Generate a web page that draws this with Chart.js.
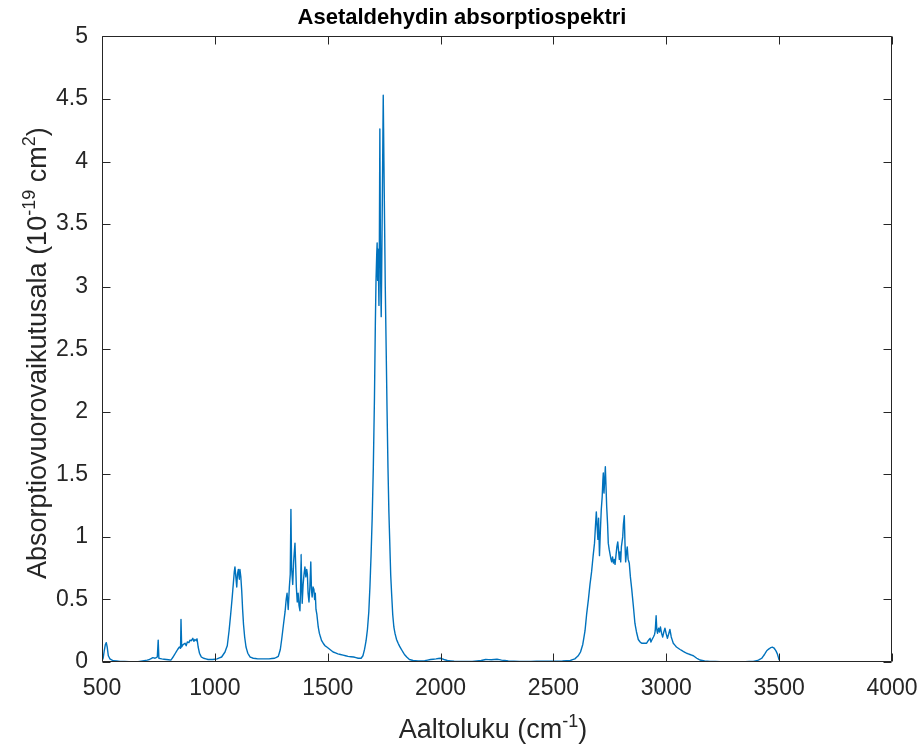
<!DOCTYPE html>
<html>
<head>
<meta charset="utf-8">
<title>Asetaldehydin absorptiospektri</title>
<script src="https://cdn.jsdelivr.net/npm/chart.js@4.4.1/dist/chart.umd.min.js"></script>
<style>
  html, body { margin: 0; padding: 0; background: #ffffff; }
  #wrap { width: 924px; height: 748px; }
</style>
</head>
<body>
<div id="wrap"><canvas id="spectrum-chart" width="924" height="748"></canvas></div>
<script>
// aaltoluku (cm^-1) ja absorptiovuorovaikutusala (1e-19 cm^2), luettu kuvasta
const wavenumber = [
  500, 505, 510, 515, 519, 523, 528, 535, 550, 580, 620, 660, 700, 710, 725, 735, 745, 749, 752, 765,
  785, 805, 815, 825, 835, 843, 848, 850, 853, 860, 868, 873, 878, 885, 890, 896, 902, 907, 912, 917,
  921, 926, 932, 940, 950, 970, 990, 1010, 1030, 1045, 1055, 1063, 1070, 1077, 1082, 1086, 1089, 1093, 1097, 1100,
  1104, 1108, 1111, 1115, 1119, 1123, 1127, 1132, 1138, 1146, 1156, 1170, 1190, 1215, 1240, 1265, 1281, 1290, 1296, 1304,
  1311, 1316, 1320, 1325, 1330, 1334, 1337, 1340, 1345, 1349, 1352, 1355, 1358, 1361, 1365, 1369, 1373, 1377, 1380, 1382,
  1385, 1387, 1391, 1395, 1399, 1403, 1407, 1410, 1413, 1417, 1421, 1425, 1428, 1431, 1435, 1439, 1442, 1445, 1448, 1452,
  1455, 1458, 1463, 1468, 1473, 1480, 1488, 1496, 1510, 1524, 1545, 1568, 1590, 1615, 1635, 1648, 1656, 1663, 1670, 1676,
  1682, 1687, 1692, 1697, 1702, 1707, 1711, 1714, 1717, 1719, 1721, 1723, 1725, 1727, 1729, 1731, 1733, 1735, 1737, 1739,
  1742, 1746, 1749, 1752, 1755, 1759, 1763, 1767, 1771, 1775, 1779, 1783, 1788, 1793, 1798, 1805, 1812, 1820, 1830, 1840,
  1850, 1862, 1878, 1900, 1930, 1955, 1980, 2000, 2015, 2030, 2060, 2100, 2140, 2180, 2200, 2225, 2250, 2270, 2300, 2350,
  2400, 2450, 2500, 2540, 2575, 2595, 2610, 2620, 2630, 2640, 2647, 2655, 2662, 2669, 2676, 2682, 2686, 2690, 2693, 2697,
  2700, 2704, 2708, 2712, 2716, 2719, 2721, 2724, 2727, 2730, 2733, 2736, 2740, 2743, 2747, 2751, 2755, 2758, 2762, 2766,
  2770, 2773, 2777, 2781, 2785, 2788, 2792, 2795, 2798, 2801, 2804, 2807, 2810, 2814, 2817, 2820, 2824, 2827, 2831, 2836,
  2841, 2847, 2854, 2861, 2868, 2876, 2884, 2891, 2900, 2913, 2920, 2928, 2932, 2937, 2943, 2948, 2951, 2955, 2958, 2961,
  2966, 2970, 2974, 2979, 2984, 2989, 2994, 2999, 3005, 3010, 3016, 3022, 3031, 3045, 3061, 3075, 3090, 3105, 3120, 3135,
  3149, 3170, 3194, 3240, 3300, 3350, 3385, 3405, 3423, 3435, 3445, 3455, 3463, 3470, 3477, 3482, 3487, 3492, 3497, 3500
];

const crossSection = [
  0.01, 0.03, 0.09, 0.14, 0.155, 0.12, 0.05, 0.025, 0.01, 0.005, 0.003, 0.003, 0.015, 0.02, 0.035, 0.03, 0.04, 0.175, 0.03, 0.025,
  0.02, 0.015, 0.04, 0.07, 0.1, 0.12, 0.11, 0.34, 0.12, 0.14, 0.15, 0.13, 0.16, 0.155, 0.175, 0.17, 0.19, 0.165, 0.18, 0.17,
  0.185, 0.12, 0.07, 0.04, 0.03, 0.02, 0.02, 0.025, 0.04, 0.08, 0.13, 0.25, 0.38, 0.52, 0.63, 0.72, 0.76, 0.68, 0.6, 0.7,
  0.74, 0.66, 0.74, 0.68, 0.57, 0.42, 0.3, 0.2, 0.12, 0.07, 0.04, 0.03, 0.025, 0.025, 0.025, 0.03, 0.045, 0.1, 0.18, 0.3,
  0.4, 0.5, 0.55, 0.42, 0.6, 0.7, 1.22, 0.75, 0.62, 0.8, 0.88, 0.95, 0.78, 0.6, 0.48, 0.55, 0.45, 0.41, 0.6, 0.86,
  0.6, 0.47, 0.62, 0.7, 0.76, 0.68, 0.74, 0.7, 0.55, 0.48, 0.6, 0.8, 0.58, 0.52, 0.6, 0.58, 0.5, 0.55, 0.42, 0.38,
  0.33, 0.28, 0.23, 0.2, 0.17, 0.15, 0.13, 0.12, 0.1, 0.08, 0.065, 0.055, 0.045, 0.04, 0.03, 0.03, 0.05, 0.1, 0.17, 0.26,
  0.4, 0.6, 0.85, 1.15, 1.55, 2.1, 2.7, 3.05, 3.25, 3.35, 3.05, 3.3, 3.1, 2.85, 3.4, 4.26, 3.5, 3.0, 2.76, 3.1,
  3.7, 4.53, 4.0, 3.5, 3.0, 2.5, 2.0, 1.55, 1.2, 0.95, 0.7, 0.55, 0.38, 0.28, 0.23, 0.18, 0.15, 0.12, 0.09, 0.06,
  0.04, 0.02, 0.012, 0.008, 0.01, 0.02, 0.025, 0.03, 0.02, 0.012, 0.006, 0.004, 0.005, 0.012, 0.02, 0.018, 0.022, 0.015, 0.008, 0.005,
  0.005, 0.006, 0.006, 0.008, 0.012, 0.025, 0.05, 0.08, 0.14, 0.25, 0.38, 0.5, 0.62, 0.72, 0.85, 0.95, 1.08, 1.2, 1.1, 0.98,
  1.15, 0.85, 1.05, 1.22, 1.32, 1.45, 1.51, 1.35, 1.45, 1.56, 1.4, 1.24, 1.1, 0.95, 0.9, 0.86, 0.82, 0.8, 0.84, 0.79,
  0.82, 0.78, 0.85, 0.92, 0.96, 0.9, 0.82, 0.88, 0.8, 0.92, 0.96, 1.0, 1.1, 1.17, 0.95, 0.8, 0.88, 0.92, 0.82, 0.79,
  0.68, 0.58, 0.45, 0.31, 0.24, 0.18, 0.16, 0.15, 0.15, 0.15, 0.17, 0.19, 0.16, 0.18, 0.2, 0.22, 0.25, 0.37, 0.26, 0.23,
  0.27, 0.24, 0.28, 0.23, 0.2, 0.24, 0.27, 0.23, 0.19, 0.22, 0.26, 0.2, 0.15, 0.12, 0.1, 0.085, 0.07, 0.06, 0.05, 0.03,
  0.016, 0.008, 0.004, 0.003, 0.003, 0.003, 0.005, 0.012, 0.03, 0.06, 0.09, 0.105, 0.115, 0.118, 0.112, 0.1, 0.085, 0.065, 0.035, 0.015
];

const xTicks = [500, 1000, 1500, 2000, 2500, 3000, 3500, 4000];
const yTicks = [0, 0.5, 1, 1.5, 2, 2.5, 3, 3.5, 4, 4.5, 5];

// akselien otsikot paloina, jotta yläindeksit saadaan oikein
const xTitleParts = [{ text: 'Aaltoluku (cm' }, { text: '-1', sup: true }, { text: ')' }];
const yTitleParts = [{ text: 'Absorptiovuorovaikutusala (10' }, { text: '-19', sup: true }, { text: ' cm' }, { text: '2', sup: true }, { text: ')' }];

const axisColor = '#262626';
const lineColor = '#0072BD';
const fontFamily = '"Liberation Sans", Arial, Helvetica, sans-serif';
const labelSize = 27;

function drawRichText(ctx, parts, cx, baseline, size) {
    const supSize = Math.round(size * 0.68);
    let total = 0;
    parts.forEach(p => {
        ctx.font = (p.sup ? supSize : size) + 'px ' + fontFamily;
        p.w = ctx.measureText(p.text).width;
        total += p.w;
    });
    let x = cx - total / 2;
    ctx.textAlign = 'left';
    ctx.textBaseline = 'alphabetic';
    parts.forEach(p => {
        ctx.font = (p.sup ? supSize : size) + 'px ' + fontFamily;
        ctx.fillText(p.text, x, p.sup ? baseline - size * 0.42 : baseline);
        x += p.w;
    });
}

// MATLAB-tyylinen laatikko, sisäänpäin osoittavat jakoviivat ja akselien otsikot
const boxPlugin = {
    id: 'matlabBox',
    afterDatasetsDraw(chart) {
        const { ctx, chartArea, scales } = chart;
        const tickLen = 8;
        ctx.save();
        ctx.strokeStyle = axisColor;
        ctx.lineWidth = 1;
        ctx.beginPath();
        const l = Math.round(chartArea.left) + 0.5;
        const r = Math.round(chartArea.right) - 0.5;
        const t = Math.round(chartArea.top) + 0.5;
        const b = Math.round(chartArea.bottom) - 0.5;
        ctx.rect(l, t, r - l, b - t);
        xTicks.forEach(v => {
            const px = Math.round(scales.x.getPixelForValue(v)) + 0.5;
            ctx.moveTo(px, b); ctx.lineTo(px, b - tickLen);
            ctx.moveTo(px, t); ctx.lineTo(px, t + tickLen);
        });
        yTicks.forEach(v => {
            const py = Math.round(scales.y.getPixelForValue(v)) + 0.5;
            ctx.moveTo(l, py); ctx.lineTo(l + tickLen, py);
            ctx.moveTo(r, py); ctx.lineTo(r - tickLen, py);
        });
        ctx.stroke();

        ctx.fillStyle = axisColor;
        const midX = (chartArea.left + chartArea.right) / 2 - 4;
        drawRichText(ctx, xTitleParts, midX, chart.height - 10, labelSize);

        const midY = (chartArea.top + chartArea.bottom) / 2 + 4;
        ctx.save();
        ctx.translate(46, midY);
        ctx.rotate(-Math.PI / 2);
        drawRichText(ctx, yTitleParts, 0, 0, labelSize);
        ctx.restore();
        ctx.restore();
    }
};

function initializeSpectrumChart() {
    const ctx = document.getElementById('spectrum-chart');
    const points = wavenumber.map((w, i) => ({ x: w, y: crossSection[i] }));

    new Chart(ctx, {
        type: 'line',
        data: {
            datasets: [{
                data: points,
                borderColor: lineColor,
                borderWidth: 1.4,
                borderJoinStyle: 'round',
                pointRadius: 0,
                tension: 0.001, // ohittaa Chart.js:n "fast path" -piirron, joka tekee pieniä sakaroita
                fill: false
            }]
        },
        options: {
            responsive: false,
            animation: false,
            layout: { padding: 0 },
            plugins: {
                legend: { display: false },
                tooltip: { enabled: false },
                title: {
                    display: true,
                    text: 'Asetaldehydin absorptiospektri',
                    color: '#000000',
                    font: { family: fontFamily, size: 22, weight: 'bold' },
                    padding: { top: 5, bottom: 5 }
                }
            },
            scales: {
                x: {
                    type: 'linear',
                    min: 500,
                    max: 4000,
                    afterFit: scale => {
                        scale.height = 86;
                        scale.paddingLeft = 0;
                        scale.paddingRight = 32;
                    },
                    grid: { display: false, drawTicks: false },
                    border: { display: false },
                    ticks: {
                        stepSize: 500,
                        padding: 13,
                        color: axisColor,
                        font: { family: fontFamily, size: 23 },
                        maxRotation: 0,
                        callback: v => String(v)
                    }
                },
                y: {
                    min: 0,
                    max: 5,
                    afterFit: scale => { scale.width = 102; },
                    grid: { display: false, drawTicks: false },
                    border: { display: false },
                    ticks: {
                        stepSize: 0.5,
                        padding: 14,
                        color: axisColor,
                        font: { family: fontFamily, size: 23 },
                        callback: v => String(v)
                    }
                }
            }
        },
        plugins: [boxPlugin]
    });
}

initializeSpectrumChart();
</script>
</body>
</html>
